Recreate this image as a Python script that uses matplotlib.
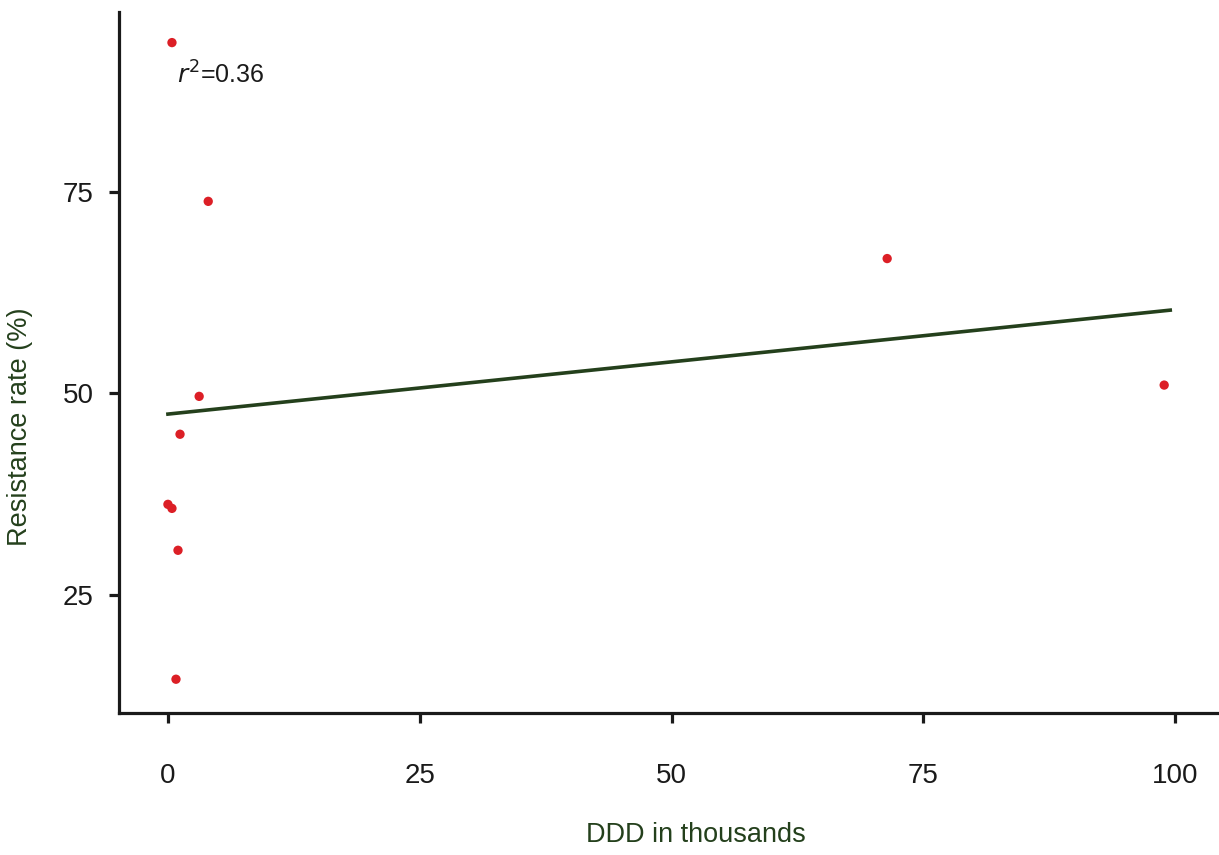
import numpy as np
import matplotlib.pyplot as plt

plt.rcParams['font.family'] = ['Liberation Sans', 'DejaVu Sans']

# DDD (thousands) vs resistance rate (%)
ddd = [0.4, 4.0, 71.4, 98.9, 3.1, 1.2, 0.0, 0.4, 1.0, 0.8]
resistance = [93.5, 73.8, 66.7, 51.0, 49.6, 44.9, 36.2, 35.7, 30.5, 14.5]

# regression line endpoints
fit_x = [0.0, 99.5]
fit_y = [47.4, 60.3]

x_ticks = [0, 25, 50, 75, 100]
y_ticks = [25, 50, 75]

green = '#24401c'
red = '#dc1f26'

fig = plt.figure(figsize=(12.19, 8.55), dpi=100)
ax = fig.add_axes([0.0976, 0.166, 0.9004, 0.82])

ax.plot(fit_x, fit_y, color=green, linewidth=2.6, zorder=2)
ax.scatter(ddd, resistance, s=45, color=red, edgecolors='none', zorder=3)

ax.text(0.9, 88.4, r'$r^2$=0.36', fontsize=18, color='#1a1a1a')

ax.set_xlim(-4.86, 104.1)
ax.set_ylim(10.3, 97.3)
ax.set_xticks(x_ticks)
ax.set_yticks(y_ticks)

for s in ['top', 'right']:
    ax.spines[s].set_visible(False)
for s in ['left', 'bottom']:
    ax.spines[s].set_linewidth(2.3)
    ax.spines[s].set_color('#1a1a1a')

ax.tick_params(axis='x', length=7, width=2.3, pad=29, labelsize=20, colors='#1a1a1a')
ax.tick_params(axis='y', length=7, width=2.3, pad=11, labelsize=20, colors='#1a1a1a')

ax.set_xlabel('DDD in thousands', fontsize=19.5, color=green)
ax.set_ylabel('Resistance rate (%)', fontsize=19.5, color=green)
ax.xaxis.set_label_coords(0.5255, -0.155)
ax.yaxis.set_label_coords(-0.078, 0.408)

plt.savefig('out.png', dpi=100)
